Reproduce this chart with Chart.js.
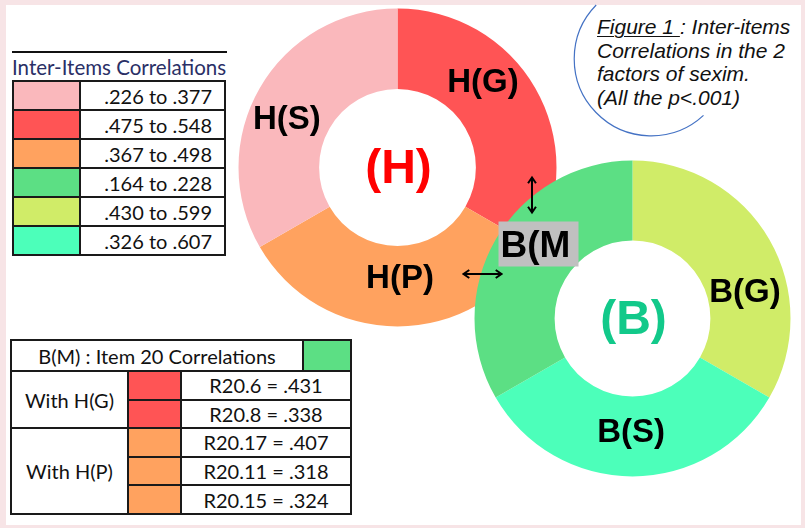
<!DOCTYPE html>
<html>
<head>
<meta charset="utf-8">
<script src="https://cdn.jsdelivr.net/npm/chart.js@4"></script>
<style>
body { margin: 0; width: 805px; height: 528px; background: #f7e4e6; overflow: hidden; position: relative; font-family: Lato, sans-serif; }
#frame { position: absolute; left: 6px; top: 5px; width: 795px; height: 520px; background: #fff; }
canvas { position: absolute; left: 0; top: 0; }
#legendTitle { position: absolute; left: 12px; top: 51px; width: 215px; border-top: 2px solid #111; font-size: 20.5px; line-height: 24px; padding-top: 2px; color: #2a2f66; white-space: nowrap; }
table { position: absolute; border-collapse: collapse; table-layout: fixed; font-size: 20px; color: #111; }
td { border: 2px solid #1a1a1a; padding: 0; white-space: nowrap; line-height: 22px; }
#ranges { left: 12px; top: 80px; width: 212px; }
#ranges td { height: 27px; }
#ranges td.txt { text-align: right; padding-right: 12px; }
#item20 { left: 10px; top: 339px; width: 340px; }
#item20 td { height: 26.6px; text-align: center; }
#item20 tr.head td { height: 29px; }
#caption { position: absolute; left: 597px; top: 15px; font: italic 21px "Liberation Sans", Arial, sans-serif; line-height: 23.5px; color: #111; }
#caption u { text-decoration-thickness: 1px; text-underline-offset: 2px; }
svg { position: absolute; left: 0; top: 0; }
</style>
</head>
<body>
<div id="frame"></div>
<svg width="805" height="528"><path d="M 703.5 115.4 A 77 77 0 0 1 596.2 5" fill="none" stroke="#4472c4" stroke-width="1.2"/></svg>
<div id="caption"><u>Figure 1 </u>: Inter-items<br>Correlations in the 2<br>factors of sexim.<br>(All the p&lt;.001)</div>
<div id="legendTitle">Inter-Items Correlations</div>
<table id="ranges"><colgroup><col style="width:67px"><col style="width:145px"></colgroup><tbody></tbody></table>
<table id="item20"><colgroup><col style="width:117px"><col style="width:53px"><col style="width:122px"><col style="width:48px"></colgroup><tbody></tbody></table>
<canvas id="chartH" width="805" height="528"></canvas>
<canvas id="chartB" width="805" height="528"></canvas>
<script>
// the two factors, each split in three equal sub-factors
const hLabels = ['H(G)', 'H(P)', 'H(S)']
const hShares = [1, 1, 1]
const hColors = ['#ff5455', '#ffa25f', '#fab8bc']
const bLabels = ['B(G)', 'B(S)', 'B(M)']
const bShares = [1, 1, 1]
const bColors = ['#d0ec68', '#4cffba', '#5cdf84']

// legend: inter-items correlation ranges
const rangeColors = ['#fab8bc', '#ff5455', '#ffa25f', '#5cdf84', '#d0ec68', '#4cffba']
const rangeTexts = ['.226 to .377', '.475 to .548', '.367 to .498', '.164 to .228', '.430 to .599', '.326 to .607']

// item 20 of B(M) correlated with H items
const item20Title = 'B(M) : Item 20 Correlations'
const item20Groups = ['With H(G)', 'With H(P)']
const item20GroupColors = ['#ff5455', '#ffa25f']
const item20Names = [['R20.6', 'R20.8'], ['R20.17', 'R20.11', 'R20.15']]
const item20Values = [['.431', '.338'], ['.407', '.318', '.324']]

function buildTables() {
	let body = document.querySelector('#ranges tbody')
	for (let i = 0; i < rangeTexts.length; i++) {
		let tr = document.createElement('tr')
		tr.innerHTML = '<td style="background:' + rangeColors[i] + '"></td><td class="txt">' + rangeTexts[i] + '</td>'
		body.appendChild(tr)
	}
	body = document.querySelector('#item20 tbody')
	let head = document.createElement('tr')
	head.className = 'head'
	head.innerHTML = '<td colspan="3">' + item20Title + '</td><td style="background:' + bColors[2] + '"></td>'
	body.appendChild(head)
	for (let g = 0; g < item20Groups.length; g++) {
		for (let i = 0; i < item20Names[g].length; i++) {
			let tr = document.createElement('tr')
			let html = ''
			if (i == 0) html += '<td rowspan="' + item20Names[g].length + '">' + item20Groups[g] + '</td>'
			html += '<td style="background:' + item20GroupColors[g] + '"></td>'
			html += '<td colspan="2">' + item20Names[g][i] + ' = ' + item20Values[g][i] + '</td>'
			tr.innerHTML = html
			body.appendChild(tr)
		}
	}
}
buildTables()

const FONT = '"Liberation Sans", Arial, sans-serif'

// labels on the ring: angle clockwise from 12 o'clock, distance as part of the outer radius
const ringLabels = {
	id: 'ringLabels',
	afterDatasetsDraw(chart, args, opts) {
		const ctx = chart.ctx
		const arc = chart.getDatasetMeta(0).data[0]
		const cx = arc.x, cy = arc.y, r = arc.outerRadius
		ctx.save()
		ctx.textAlign = 'center'
		ctx.textBaseline = 'middle'
		ctx.font = 'bold 48px ' + FONT
		ctx.fillStyle = opts.centerColor
		ctx.fillText(opts.center, cx + 1, cy + 2)
		ctx.font = 'bold 33px ' + FONT
		ctx.fillStyle = '#000'
		opts.spots.forEach(function (s) {
			const a = (s.angle - 90) * Math.PI / 180
			ctx.fillText(chart.data.labels[s.index], cx + Math.cos(a) * s.dist * r, cy + Math.sin(a) * s.dist * r)
		})
		ctx.restore()
	}
}

function arrow(ctx, x1, y1, x2, y2) {
	const a = Math.atan2(y2 - y1, x2 - x1), h = 7
	ctx.beginPath()
	ctx.moveTo(x1, y1)
	ctx.lineTo(x2, y2)
	for (const [x, y, d] of [[x1, y1, a + Math.PI], [x2, y2, a]]) {
		ctx.moveTo(x - h * Math.cos(d - 0.6), y - h * Math.sin(d - 0.6))
		ctx.lineTo(x, y)
		ctx.lineTo(x - h * Math.cos(d + 0.6), y - h * Math.sin(d + 0.6))
	}
	ctx.stroke()
}

// B(M) tag and the two arrows pointing at H(G) and H(P), offsets from the B centre
const linkMarks = {
	id: 'linkMarks',
	afterDatasetsDraw(chart) {
		const ctx = chart.ctx
		const arc = chart.getDatasetMeta(0).data[0]
		const cx = arc.x, cy = arc.y
		ctx.save()
		ctx.fillStyle = '#c0c0c0'
		ctx.fillRect(cx - 134, cy - 97, 80, 45)
		ctx.fillStyle = '#000'
		ctx.font = 'bold 37px ' + FONT
		ctx.textBaseline = 'middle'
		// the tag box cuts the closing bracket off
		ctx.fillText(chart.data.labels[2].slice(0, -1), cx - 132, cy - 72)
		ctx.strokeStyle = '#000'
		ctx.lineWidth = 2
		arrow(ctx, cx - 100.5, cy - 141, cx - 100.5, cy - 106)
		arrow(ctx, cx - 169, cy - 44.5, cx - 131, cy - 44.5)
		ctx.restore()
	}
}

function ring(id, labels, shares, colors, pad, center, centerColor, spots, extra) {
	return new Chart(document.getElementById(id), {
		type: 'doughnut',
		data: {
			labels: labels,
			datasets: [{
				data: shares,
				backgroundColor: colors,
				borderWidth: 0,
				hoverOffset: 0,
				offset: 0,
			}],
		},
		options: {
			responsive: false,
			animation: false,
			events: [],
			cutout: '49.3%',
			layout: { padding: pad },
			plugins: {
				legend: { display: false },
				tooltip: { enabled: false },
				ringLabels: { center: center, centerColor: centerColor, spots: spots },
			},
		},
		plugins: [ringLabels].concat(extra),
	})
}

ring('chartH', hLabels, hShares, hColors,
	{ left: 238.5, top: 8.5, right: 248.5, bottom: 201.5 },
	'(H)', '#ff0000',
	[{ index: 0, angle: 45.3, dist: 0.756 }, { index: 1, angle: 178.7, dist: 0.70 }, { index: 2, angle: 293.3, dist: 0.757 }],
	[])

ring('chartB', bLabels, bShares, bColors,
	{ left: 474.5, top: 160.5, right: 14.5, bottom: 51.5 },
	'(B)', '#12c98a',
	[{ index: 0, angle: 77.2, dist: 0.73 }, { index: 1, angle: 180.7, dist: 0.725 }],
	[linkMarks])
</script>
</body>
</html>
